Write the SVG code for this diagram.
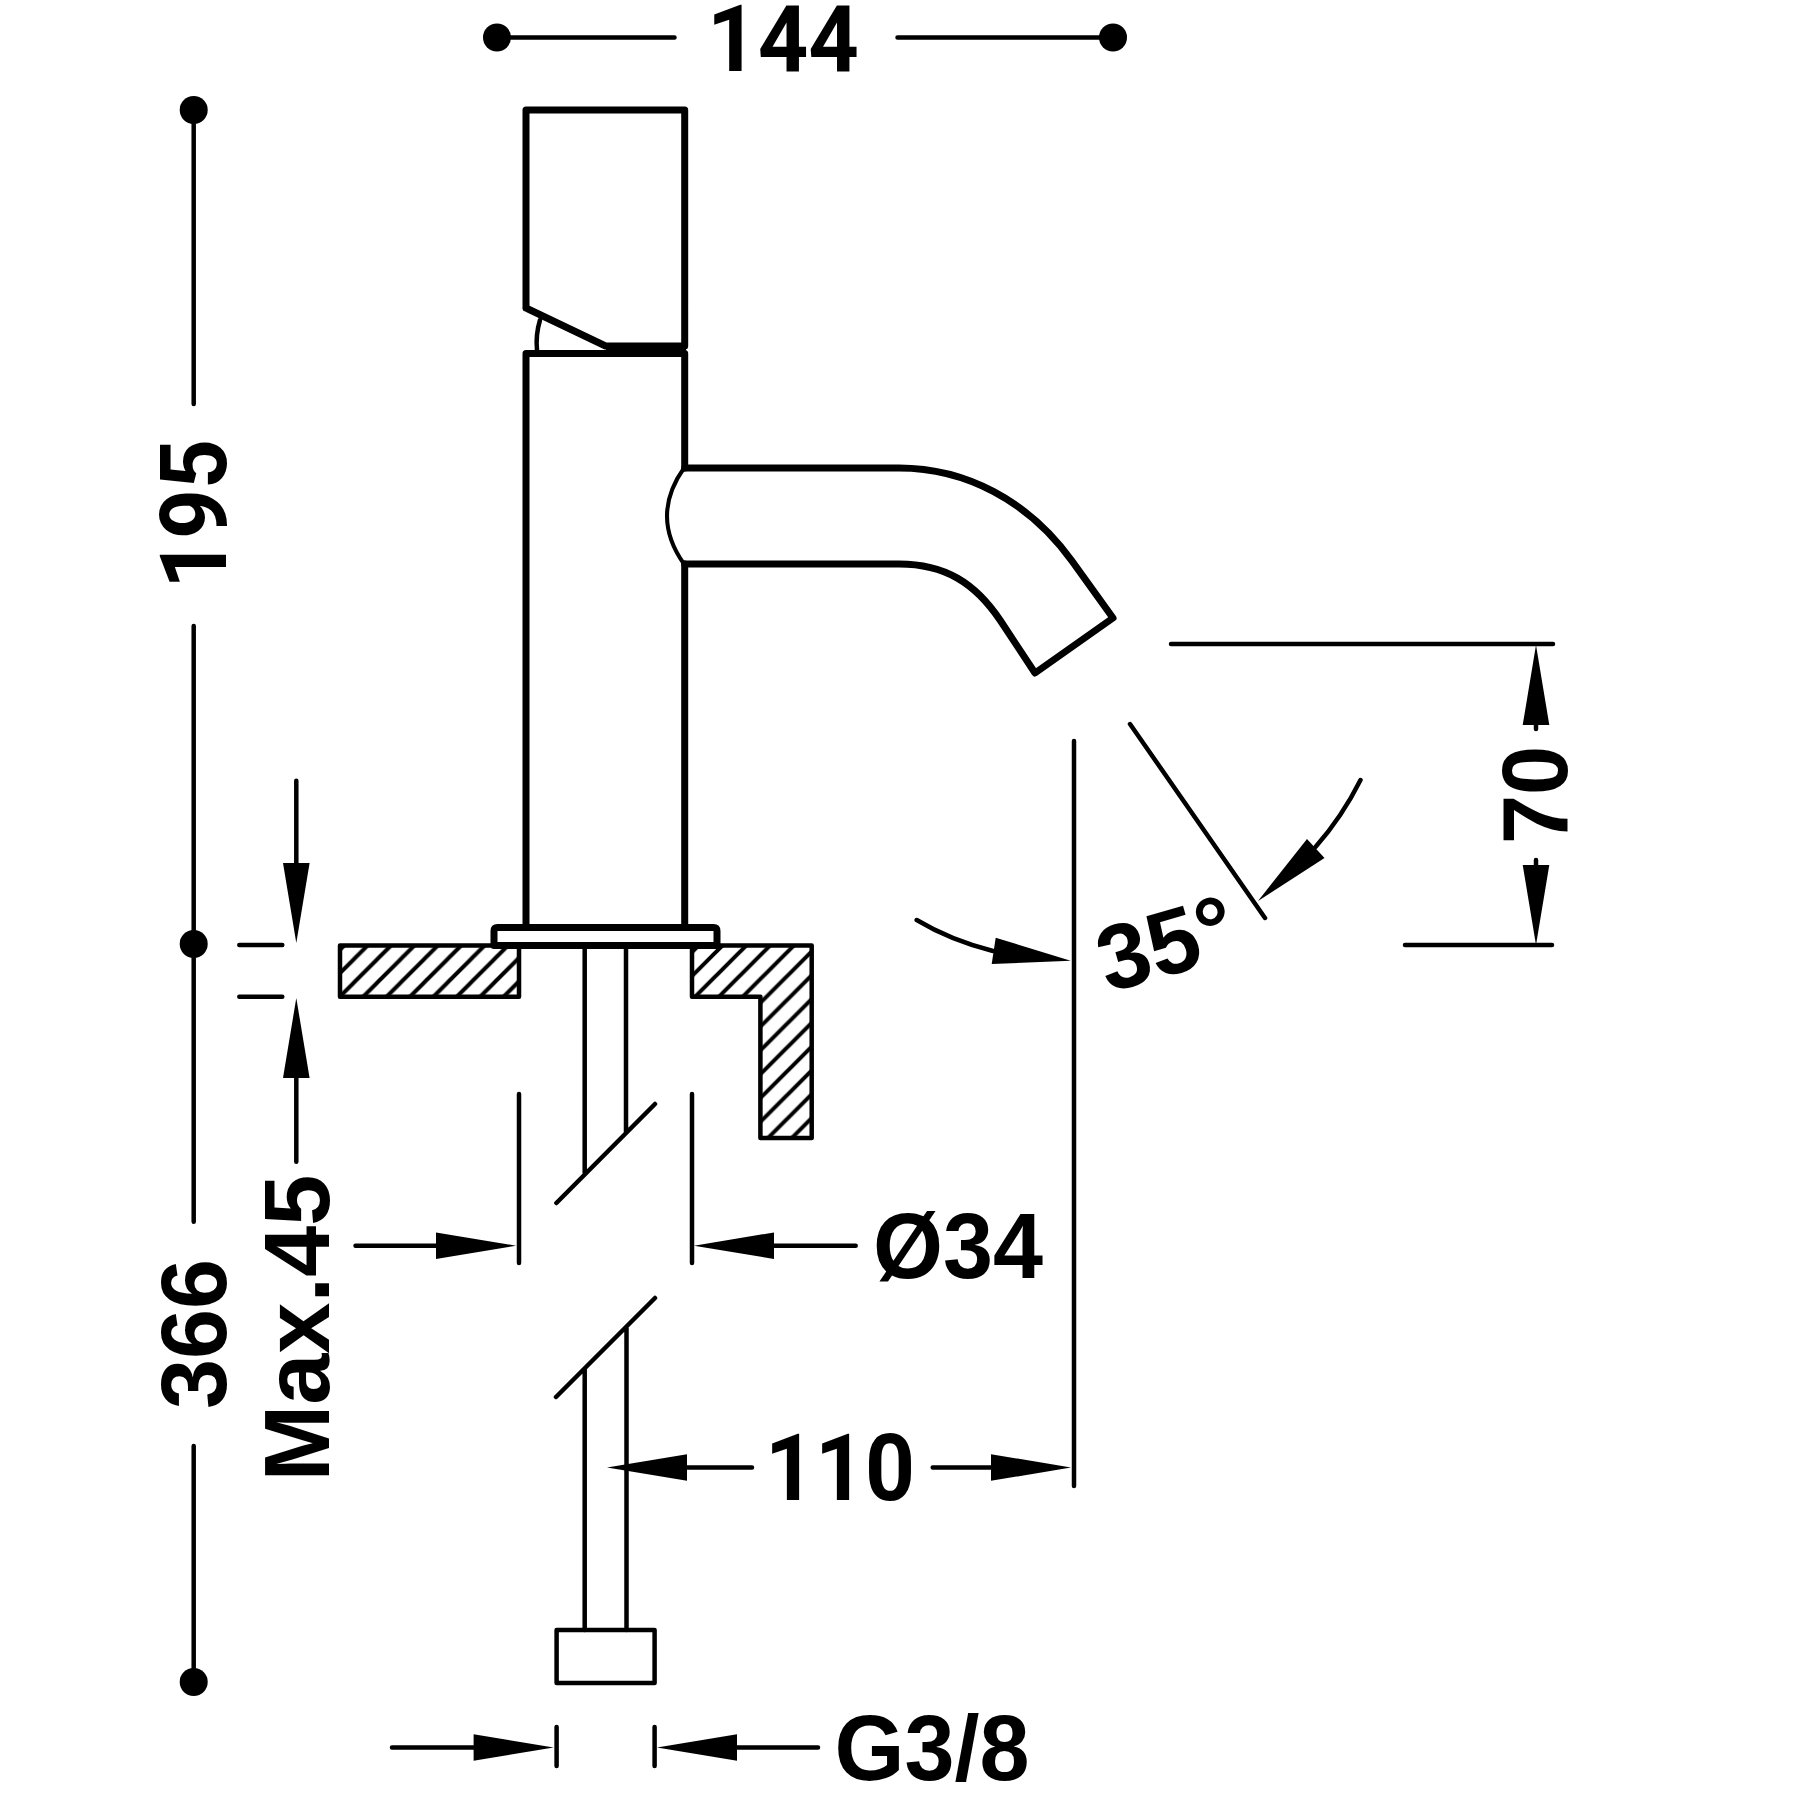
<svg xmlns="http://www.w3.org/2000/svg" width="1800" height="1800" viewBox="0 0 1800 1800">
<style>
.o{fill:none;stroke:#000;stroke-width:7;stroke-linecap:round;stroke-linejoin:round}
.m{fill:none;stroke:#000;stroke-width:4.500;stroke-linecap:round;stroke-linejoin:round}
.t{font-family:"Liberation Sans",Arial,sans-serif;font-weight:700;font-size:92px;fill:#000}
.r{font-family:Roboto,"Liberation Sans",sans-serif}
.d{fill:#000}
</style>
<defs>
<polygon id="ah" points="0,0 -80,-13.300 -80,13.300" fill="#000"/>
<pattern id="hl" patternUnits="userSpaceOnUse" width="23.400" height="23.400" patternTransform="translate(2.700 0)"><path d="M-2,25.400L25.400,-2M-2,2L2,-2M21.400,25.400L25.400,21.400" stroke="#000" stroke-width="4"/></pattern>
<pattern id="hr" patternUnits="userSpaceOnUse" width="23.800" height="23.800" patternTransform="translate(2 0)"><path d="M-2,25.800L25.800,-2M-2,2L2,-2M21.800,25.800L25.800,21.800" stroke="#000" stroke-width="4"/></pattern>
</defs>
<rect width="1800" height="1800" fill="#fff"/>
<g id="counter-left"><polygon points="340,945.500 519,945.500 519,996.700 340,996.700" fill="url(#hl)" stroke="#000" stroke-width="4.500" stroke-linejoin="round"/></g>
<g id="counter-right"><polygon points="692,945.500 811.700,945.500 811.700,1138 760.400,1138 760.400,996.700 692,996.700" fill="url(#hr)" stroke="#000" stroke-width="4.500" stroke-linejoin="round"/></g>
<g id="handle">
<path class="o" d="M526,308V110H684.700V346H605.600L526,308"/>
<path class="m" d="M540,320Q535.500,335 537,350"/>
<path d="M606,343H686V356H606Z" class="d"/>
</g>
<g id="body">
<path class="o" d="M526,927V353.600H684.700V468M684.700,564V927"/>
</g>
<g id="spout">
<path class="o" d="M684.700,468H899C965,468 1028,500 1072,561L1113,618L1035,673L1000,620C975,583 945,564 899,564H684.700"/>
<path d="M684,468Q650,516 684,564" fill="none" stroke="#000" stroke-width="4"/>
</g>
<g id="flange"><path d="M494,945.500V931Q494,927.500 497.500,927.500H713.500Q717,927.500 717,931V945.500Z" fill="#fff" stroke="#000" stroke-width="7" stroke-linejoin="round"/></g>
<g id="pipe-upper">
<path class="m" d="M584.700,949V1173M626,949V1133M556.400,1203L655,1104"/>
</g>
<g id="pipe-lower">
<path class="m" d="M584.700,1368.600V1630M626.500,1328V1630M556,1397L655,1298"/>
<rect x="556.600" y="1630" width="98" height="53" class="m"/>
</g>
<g id="connectors">
<g id="dim-144">
<circle class="d" cx="497" cy="37.500" r="14"/><circle class="d" cx="1113" cy="37.500" r="14"/>
<path class="m" d="M497,37.500H674.500M897.500,37.500H1113"/>
</g>
<g id="dim-561">
<circle class="d" cx="193.700" cy="110" r="14"/><circle class="d" cx="193.700" cy="944" r="14"/><circle class="d" cx="193.700" cy="1682" r="14"/>
<path class="m" d="M193.700,110V404M193.700,626V1221.700M193.700,1446V1682"/>
</g>
<g id="dim-max45">
<path class="m" d="M239.300,945H282.300M239.300,996.700H282.300M296.300,780.700V870M296.300,1070V1161.700M355.500,1245.700H440M855.700,1245.700H770M519,1094V1263M692,1094V1263"/>
<use href="#ah" transform="translate(296.300 943) rotate(90)"/>
<use href="#ah" transform="translate(296.300 998) rotate(-90)"/>
</g>
<g id="dim-34">
<use href="#ah" transform="translate(516 1245.700)"/>
<use href="#ah" transform="translate(694 1245.700) rotate(180)"/>
</g>
<g id="dim-110">
<path class="m" d="M752,1467.500H680M932.700,1467.500H1000M1074,741V1486"/>
<use href="#ah" transform="translate(607 1467.500) rotate(180)"/>
<use href="#ah" transform="translate(1071 1467.500)"/>
</g>
<g id="dim-g38">
<path class="m" d="M392,1747.500H480M818,1747.500H730M556.600,1727V1766M654.600,1727V1766"/>
<use href="#ah" transform="translate(553.600 1747.500)"/>
<use href="#ah" transform="translate(657 1747.500) rotate(180)"/>
</g>
<g id="dim-70">
<path class="m" d="M1171,644H1553M1405,945H1552M1536,729V720M1536,860V870"/>
<use href="#ah" transform="translate(1536 645) rotate(-90)"/>
<use href="#ah" transform="translate(1536 945) rotate(90)"/>
</g>
<g id="dim-35">
<path class="m" d="M1130,724L1265,918M916.700,920Q950,940 993,951M1360.500,780Q1342,817 1315.700,846.700"/>
<polygon class="d" points="1070.700,960.700 995.700,937.700 991.700,964"/>
<polygon class="d" points="1258,901 1307,839 1324.500,858"/>
</g>
</g>
<g id="labels">
<text class="t r" x="783" y="70.500" text-anchor="middle" textLength="152" lengthAdjust="spacingAndGlyphs">144</text>
<text class="t r" text-anchor="middle" transform="translate(226 514) rotate(-90)" textLength="150" lengthAdjust="spacingAndGlyphs">195</text>
<text class="t" text-anchor="middle" transform="translate(226 1334) rotate(-90)" textLength="150" lengthAdjust="spacingAndGlyphs">366</text>
<text class="t" text-anchor="middle" transform="translate(328.700 1328) rotate(-90)">Max.45</text>
<text class="t" text-anchor="middle" transform="translate(1567 795) rotate(-90)" textLength="98" lengthAdjust="spacingAndGlyphs">70</text>
<text class="t" x="958" y="1278" text-anchor="middle" textLength="170" lengthAdjust="spacingAndGlyphs">Ø34</text>
<text class="t r" x="840" y="1500" text-anchor="middle" textLength="150" lengthAdjust="spacingAndGlyphs">110</text>
<text class="t" x="932" y="1780" text-anchor="middle" textLength="195" lengthAdjust="spacingAndGlyphs">G3/8</text>
<text class="t" transform="translate(1108 993) rotate(-16)">35°</text>
</g>
</svg>
